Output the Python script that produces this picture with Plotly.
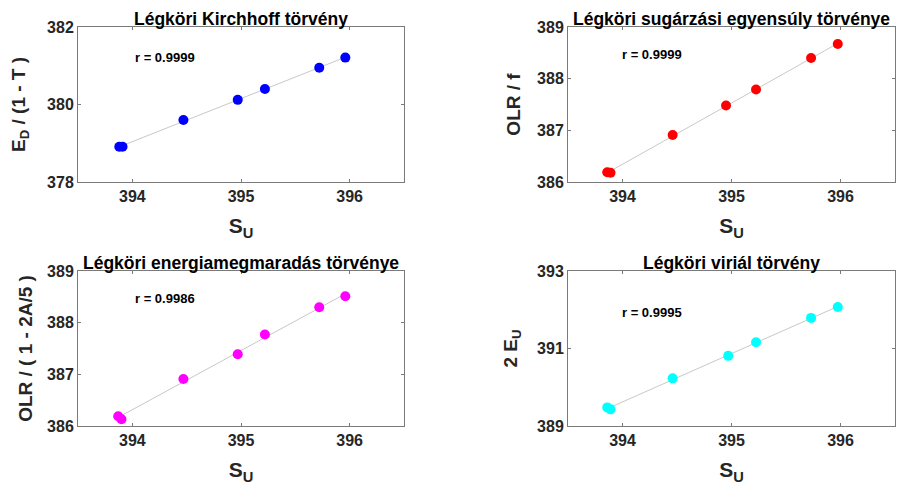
import numpy as np
import plotly.graph_objects as go

# Data
s_u = [393.88, 393.91, 394.47, 394.97, 395.22, 395.72, 395.96]
kirchhoff = [378.91, 378.91, 379.60, 380.12, 380.40, 380.95, 381.21]
s_u_b = [393.86, 393.89, 394.46, 394.95, 395.225, 395.73, 395.975]
radiative = [386.19, 386.18, 386.91, 387.48, 387.79, 388.40, 388.67]
s_u_c = [393.87, 393.90, 394.47, 394.97, 395.22, 395.72, 395.96]
energy = [386.19, 386.13, 386.91, 387.39, 387.77, 388.30, 388.51]
s_u_d = [393.86, 393.89, 394.46, 394.97, 395.225, 395.73, 395.975]
virial = [389.48, 389.43, 390.23, 390.81, 391.16, 391.79, 392.07]

titles = ["Légköri Kirchhoff törvény", "Légköri sugárzási egyensúly törvénye",
          "Légköri energiamegmaradás törvénye", "Légköri viriál törvény"]
ytitles = ["E<sub>D</sub> / (1 - T )", "OLR / f", "OLR / ( 1 - 2A/5 )", "2 E<sub>U</sub>"]
r_labels = ["r = 0.9999", "r = 0.9999", "r = 0.9986", "r = 0.9995"]
x_ticks = [394, 395, 396]
y_ticks = [[378, 380, 382], [386, 387, 388, 389], [386, 387, 388, 389], [389, 391, 393]]
colors = ["#0000ff", "#ff0000", "#ff00ff", "#00ffff"]
yranges = [[378, 382], [386, 389], [386, 389], [389, 393]]
r_pos = [(394.01, 381.2), (393.98, 388.46), (394.01, 388.46), (393.98, 391.94)]
xs = [s_u, s_u_b, s_u_c, s_u_d]
ys = [kirchhoff, radiative, energy, virial]
ystandoff = [16, 11, 9, 14]

# page body has an 8px margin: the figure starts at (8, 8)
OFF = 8
W, H = 905 - OFF, 488 - OFF


def dx(px):
    return (px - OFF) / W


def dy(py):
    return 1 - (py - OFF) / H


xdoms = [[dx(78), dx(404)], [dx(568), dx(895)]]
ydoms = [[dy(182), dy(27)], [dy(426), dy(271)]]

FONT = "Liberation Sans, Arial, sans-serif"
TXT = "#262626"
AXL = "#7a7a7a"

fig = go.Figure()
layout = dict(width=W, height=H, margin=dict(l=0, r=0, t=0, b=0),
              paper_bgcolor="white", plot_bgcolor="white", showlegend=False,
              font=dict(family=FONT, color=TXT))
annotations = []
for i in range(4):
    row, col = divmod(i, 2)
    n = "" if i == 0 else str(i + 1)
    xa, ya = "x" + n, "y" + n
    x = np.array(xs[i]); y = np.array(ys[i])
    a, b = np.polyfit(x, y, 1)
    lx = np.array([x.min(), x.max()])
    fig.add_trace(go.Scatter(x=lx, y=a * lx + b, mode="lines",
                             line=dict(color="#c8c8c8", width=1),
                             xaxis=xa, yaxis=ya, hoverinfo="skip"))
    fig.add_trace(go.Scatter(x=xs[i], y=ys[i], mode="markers",
                             marker=dict(color=colors[i], size=10),
                             xaxis=xa, yaxis=ya))
    layout["xaxis" + n] = dict(domain=xdoms[col], anchor=ya, range=[393.5, 396.5],
                               tickvals=x_ticks, ticks="inside", ticklen=3,
                               tickcolor=AXL, showline=True, linecolor=AXL, linewidth=1,
                               mirror="ticks", showgrid=False, zeroline=False,
                               automargin=False,
                               tickfont=dict(size=16, family=FONT, color=TXT, weight="bold"),
                               title=dict(text="S<sub>U</sub>", standoff=14,
                                          font=dict(size=21, family=FONT, color=TXT, weight="bold")))
    layout["yaxis" + n] = dict(domain=ydoms[row], anchor=xa, range=yranges[i],
                               tickvals=y_ticks[i], ticks="inside", ticklen=3,
                               tickcolor=AXL, showline=True, linecolor=AXL, linewidth=1,
                               mirror="ticks", showgrid=False, zeroline=False,
                               automargin=False,
                               tickfont=dict(size=16, family=FONT, color=TXT, weight="bold"),
                               title=dict(text=ytitles[i], standoff=ystandoff[i],
                                          font=dict(size=19, family=FONT, color=TXT, weight="bold")))
    xc = (xdoms[col][0] + xdoms[col][1]) / 2
    annotations.append(dict(text=titles[i], x=xc, y=ydoms[row][1] + 8 / H,
                            xref="paper", yref="paper", showarrow=False,
                            xanchor="center", yanchor="middle",
                            font=dict(size=17.5, family=FONT, color="black", weight="bold")))
    annotations.append(dict(text=r_labels[i], x=r_pos[i][0], y=r_pos[i][1],
                            xref=xa, yref=ya, showarrow=False,
                            xanchor="left", yanchor="middle",
                            font=dict(size=13, family=FONT, color="black", weight="bold")))
layout["annotations"] = annotations
fig.update_layout(**layout)
fig.write_html("out.html")
